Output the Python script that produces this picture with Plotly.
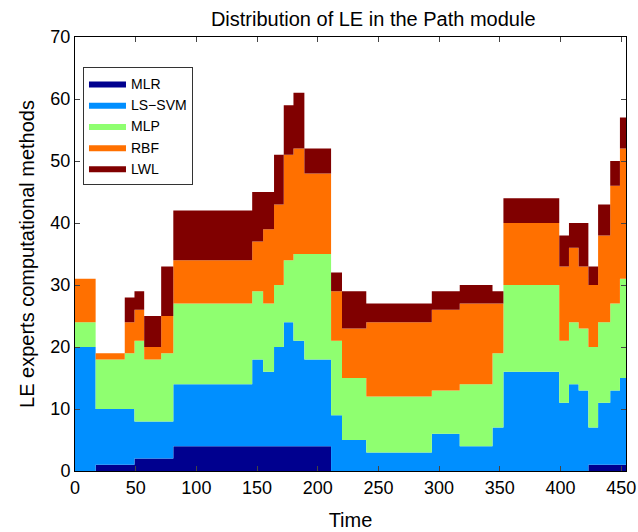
import plotly.graph_objects as go

# Segment start times (plus final end time)
time_edges = [0, 17, 41, 49, 57, 71, 81, 146, 155, 164, 172, 180, 189, 211,
              220, 240, 294, 317, 344, 353, 399, 407, 415, 423, 431, 441, 449, 454]

mlr    = [0, 1, 1, 2, 2, 2, 4, 4, 4, 4, 4, 4, 4, 0, 0, 0, 0, 0, 0, 0, 0, 0, 0, 1, 1, 1, 1]
lssvm  = [20, 9, 9, 6, 6, 6, 10, 14, 12, 16, 20, 17, 14, 9, 5, 3, 6, 4, 7, 16, 11, 14, 13, 6, 10, 12, 14]
mlp    = [4, 8, 9, 13, 10, 11, 13, 11, 11, 10, 10, 14, 17, 12, 10, 9, 7, 10, 12, 14, 10, 10, 10, 13, 13, 14, 16]
rbf    = [7, 1, 5, 5, 2, 6, 7, 8, 12, 13, 17, 17, 13, 8, 8, 12, 13, 13, 8, 10, 12, 12, 10, 10, 14, 19, 21]
lwl    = [0, 0, 4, 3, 5, 8, 8, 8, 6, 8, 8, 9, 4, 3, 6, 3, 3, 3, 2, 4, 5, 4, 7, 3, 5, 4, 5]

names = ["MLR", "LS\u2212SVM", "MLP", "RBF", "LWL"]
colors = ["#00008F", "#008FFF", "#8FFF70", "#FF7000", "#800000"]
series = [mlr, lssvm, mlp, rbf, lwl]

fig = go.Figure()
for name, color, vals in zip(names, colors, series):
    y = list(vals) + [vals[-1]]
    fig.add_trace(go.Scatter(
        x=time_edges, y=y, name=name, mode="lines",
        stackgroup="one", line=dict(width=0, shape="hv", color=color),
        fillcolor=color,
    ))

font_family = "Liberation Sans, Arial, sans-serif"
fig.update_layout(
    width=638, height=532,
    margin=dict(l=75, r=12, t=37, b=61),
    paper_bgcolor="white", plot_bgcolor="white",
    font=dict(family=font_family, size=18, color="black"),
    title=dict(text="Distribution of LE in the Path module", x=0.585, xanchor="center",
               xref="container", y=0.964, yanchor="middle", yref="container",
               font=dict(size=20)),
    showlegend=True,
    legend=dict(x=0.0145, y=0.931, xanchor="left", yanchor="top",
                bgcolor="white", bordercolor="#333333", borderwidth=1,
                font=dict(size=14), traceorder="normal",
                itemwidth=37, tracegroupgap=0),
    xaxis=dict(range=[0, 454], dtick=50, tick0=0, ticks="inside", ticklen=5,
               showline=True, linecolor="black", linewidth=1, mirror="ticks",
               showgrid=False, zeroline=False, automargin=False,
               title=dict(text="Time", font=dict(size=20), standoff=16)),
    yaxis=dict(range=[0, 70], dtick=10, tick0=0, ticks="inside", ticklen=5,
               showline=True, linecolor="black", linewidth=1, mirror="ticks",
               showgrid=False, zeroline=False, automargin=False,
               title=dict(text="LE experts computational methods", font=dict(size=20), standoff=10)),
)

fig.write_html("out.html")
